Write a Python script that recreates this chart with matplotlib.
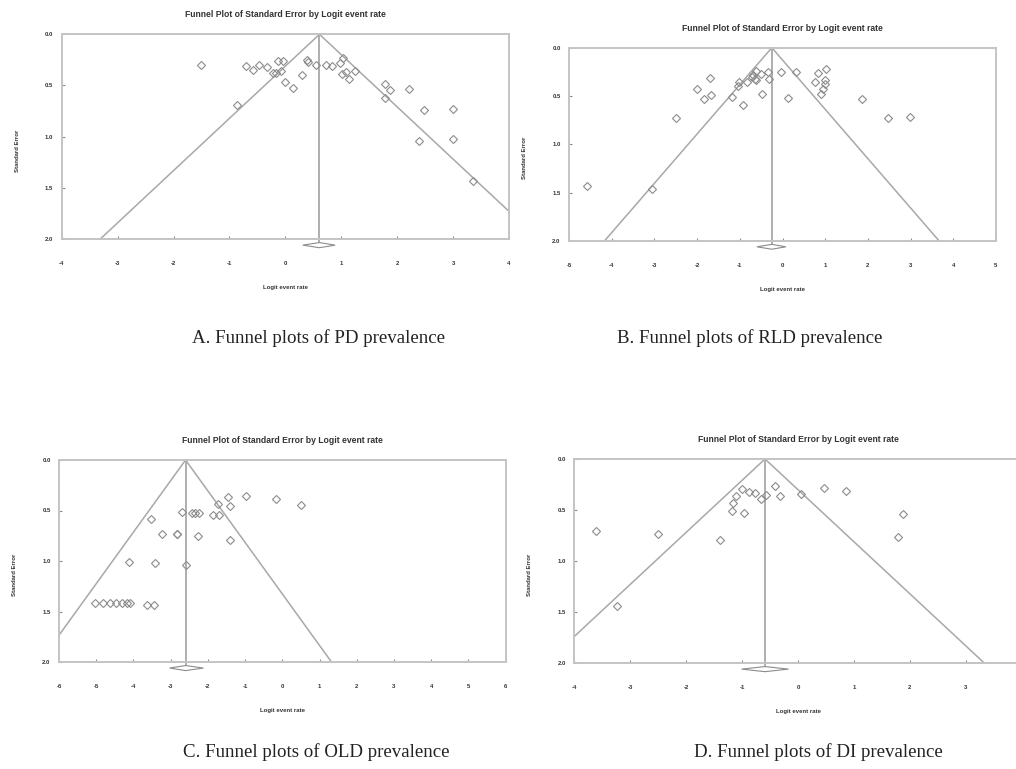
import matplotlib
matplotlib.use("Agg")
import matplotlib.pyplot as plt
from matplotlib.patches import Polygon

# ---- data (logit event rate, standard error) ----
pd_x = [-1.51, -0.86, -0.70, -0.58, -0.48, -0.32, -0.22, -0.16, -0.13, -0.04,
        -0.08, -0.01, 0.13, 0.30, 0.39, 0.40, 0.55, 0.72, 0.84, 0.98,
        1.03, 1.01, 1.09, 1.14, 1.24, 1.79, 1.87, 1.79, 2.21, 2.48,
        2.39, 2.99, 2.99, 3.36]
pd_se = [0.30, 0.69, 0.31, 0.35, 0.30, 0.32, 0.38, 0.38, 0.26, 0.26,
         0.36, 0.47, 0.52, 0.40, 0.25, 0.27, 0.30, 0.30, 0.31, 0.28,
         0.23, 0.39, 0.37, 0.44, 0.36, 0.49, 0.54, 0.62, 0.53, 0.74,
         1.04, 0.73, 1.02, 1.43]
pd_mean = 0.61
pd_ci = (0.31, 0.89)

rld_x = [-4.57, -3.05, -2.50, -2.01, -1.85, -1.70, -1.68, -1.18, -1.04, -1.03,
         -0.93, -0.84, -0.72, -0.68, -0.63, -0.63, -0.64, -0.51, -0.47, -0.35,
         -0.32, -0.04, 0.12, 0.32, 0.76, 0.82, 0.89, 0.94, 0.99, 1.00,
         1.03, 1.86, 2.48, 2.99]
rld_se = [1.43, 1.46, 0.73, 0.43, 0.53, 0.31, 0.49, 0.51, 0.40, 0.35,
          0.59, 0.36, 0.30, 0.28, 0.24, 0.33, 0.32, 0.27, 0.48, 0.25,
          0.32, 0.25, 0.52, 0.25, 0.36, 0.26, 0.48, 0.43, 0.38, 0.33,
          0.22, 0.53, 0.73, 0.72]
rld_mean = -0.25
rld_ci = (-0.60, 0.08)

old_x = [-5.04, -4.83, -4.63, -4.47, -4.31, -4.18, -4.09, -3.64, -3.44, -4.11,
         -3.42, -2.59, -3.53, -3.24, -2.84, -2.83, -2.26, -2.69, -2.44, -2.34,
         -2.25, -1.85, -1.71, -1.73, -1.45, -1.40, -1.40, -0.98, -0.16, 0.49]
old_se = [1.42, 1.42, 1.42, 1.42, 1.42, 1.42, 1.42, 1.44, 1.44, 1.01,
          1.02, 1.04, 0.58, 0.73, 0.73, 0.73, 0.75, 0.51, 0.52, 0.52,
          0.52, 0.54, 0.54, 0.44, 0.37, 0.46, 0.79, 0.36, 0.39, 0.45]
old_mean = -2.60
old_ci = (-3.03, -2.12)

di_x = [-3.62, -3.24, -2.50, -1.40, -1.18, -1.16, -1.10, -1.00, -0.96, -0.88,
        -0.77, -0.66, -0.58, -0.42, -0.33, 0.06, 0.46, 0.85, 1.87, 1.79]
di_se = [0.71, 1.44, 0.74, 0.79, 0.51, 0.43, 0.36, 0.29, 0.53, 0.32,
         0.33, 0.39, 0.35, 0.26, 0.36, 0.34, 0.28, 0.31, 0.54, 0.76]
di_mean = -0.59
di_ci = (-1.01, -0.17)

W, H = 1016, 769
GRAY = "#a8a8a8"
MGRAY = "#8c8c8c"
SANS = "Liberation Sans"

plt.rcParams["axes.unicode_minus"] = False
fig = plt.figure(figsize=(W / 100, H / 100), dpi=100)


def px_box(left, right, top, bottom):
    return [left / W, 1 - bottom / H, (right - left) / W, (bottom - top) / H]


def funnel(box, x, se, mean, ci, xlim, xticks):
    ax = fig.add_axes(box)
    ax.set_xlim(*xlim)
    ax.set_ylim(2.0, 0.0)

    ax.plot(x, se, linestyle="none", marker="D", ms=4.2, mfc="none",
            mec=MGRAY, mew=0.8, zorder=3)

    # 95% pseudo confidence limits and the mean line
    ax.plot([mean - 1.96 * 2.0, mean, mean + 1.96 * 2.0], [2.0, 0.0, 2.0],
            color=GRAY, lw=1.1, zorder=2)
    ax.plot([mean, mean], [0.0, 2.05], color=GRAY, lw=1.3, zorder=2,
            clip_on=False)

    # summary diamond just under the axis
    dia = Polygon([(ci[0], 2.06), (mean, 2.035), (ci[1], 2.06), (mean, 2.085)],
                  closed=True, facecolor="white", edgecolor=MGRAY, lw=0.8,
                  clip_on=False, transform=ax.transData, zorder=3)
    ax.add_patch(dia)

    for s in ax.spines.values():
        s.set_color("#c4c4c4")
        s.set_linewidth(1.4)

    ax.set_xticks(xticks)
    ax.set_yticks([0.0, 0.5, 1.0, 1.5, 2.0])
    ax.set_yticklabels(["%.1f" % v for v in [0.0, 0.5, 1.0, 1.5, 2.0]])
    ax.tick_params(direction="in", length=2, width=0.8, color=MGRAY,
                   labelsize=4.3, labelcolor="#333333")
    ax.tick_params(axis="x", pad=16)
    ax.tick_params(axis="y", pad=6)
    for lab in ax.get_xticklabels() + ax.get_yticklabels():
        lab.set_fontweight("bold")
        lab.set_family(SANS)

    ax.annotate("Funnel Plot of Standard Error by Logit event rate",
                xy=(0.5, 1.0), xycoords="axes fraction", xytext=(0, 14),
                textcoords="offset points", ha="center", va="center",
                fontsize=6.2, fontweight="bold", family=SANS, color="#333333")
    ax.annotate("Logit event rate", xy=(0.5, 0.0), xycoords="axes fraction",
                xytext=(0, -35), textcoords="offset points", ha="center",
                va="center", fontsize=4.3, fontweight="bold", family=SANS,
                color="#333333")
    ax.annotate("Standard Error", xy=(0.0, 0.43), xycoords="axes fraction",
                xytext=(-32, 0), textcoords="offset points", ha="center",
                va="center", rotation=90, fontsize=4.3, fontweight="bold",
                family=SANS, color="#333333")
    return ax


funnel(px_box(61.7, 509, 34.3, 239), pd_x, pd_se, pd_mean, pd_ci,
       (-4, 4), range(-4, 5))
funnel(px_box(569, 996, 47.7, 241), rld_x, rld_se, rld_mean, rld_ci,
       (-5, 5), range(-5, 6))
funnel(px_box(59, 505.7, 460, 662), old_x, old_se, old_mean, old_ci,
       (-6, 6), range(-6, 7))
# the right edge of panel D runs past the page in the reference
funnel(px_box(574.3, 1021.7, 459, 663), di_x, di_se, di_mean, di_ci,
       (-4, 4), range(-4, 4))

captions = [("A. Funnel plots of PD prevalence", 319, 338),
            ("B. Funnel plots of RLD prevalence", 750, 338),
            ("C. Funnel plots of OLD prevalence", 316, 752),
            ("D. Funnel plots of DI prevalence", 818, 752)]
for text, cx, cy in captions:
    fig.text(cx / W, 1 - cy / H, text, ha="center", va="center",
             fontsize=13.6, family="Liberation Serif", color="#222222")

fig.savefig("out.png", dpi=100)
